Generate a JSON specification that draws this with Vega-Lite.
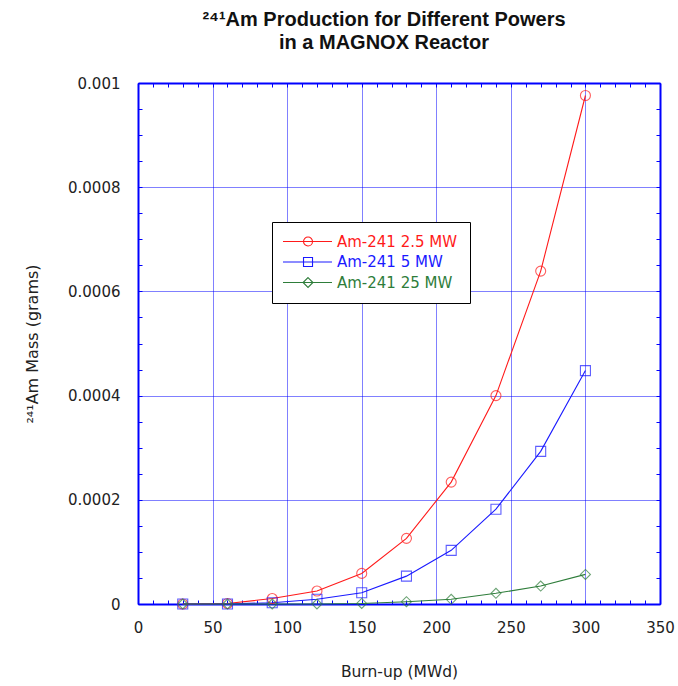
{
  "$schema": "https://vega.github.io/schema/vega-lite/v6.json",
  "width": 522,
  "height": 521,
  "autosize": "none",
  "padding": {"left": 138, "top": 83, "right": 18, "bottom": 82},
  "background": "white",
  "config": {
    "view": {"stroke": null},
    "font": "DejaVu Sans"
  },
  "title": {
    "text": ["²⁴¹Am Production for Different Powers", "in a MAGNOX Reactor"],
    "font": "Liberation Sans",
    "fontSize": 20,
    "fontWeight": "bold",
    "color": "#111",
    "anchor": "middle",
    "lineHeight": 23,
    "offset": 23,
    "dx": -15
  },
  "data": {
    "values": [
      {"burnup": 30, "mass": 0, "series": "Am-241 2.5 MW"},
      {"burnup": 60, "mass": 0.000001, "series": "Am-241 2.5 MW"},
      {"burnup": 90, "mass": 0.0000105, "series": "Am-241 2.5 MW"},
      {"burnup": 120, "mass": 0.0000249, "series": "Am-241 2.5 MW"},
      {"burnup": 150, "mass": 0.0000587, "series": "Am-241 2.5 MW"},
      {"burnup": 180, "mass": 0.000126, "series": "Am-241 2.5 MW"},
      {"burnup": 210, "mass": 0.000234, "series": "Am-241 2.5 MW"},
      {"burnup": 240, "mass": 0.0004, "series": "Am-241 2.5 MW"},
      {"burnup": 270, "mass": 0.000639, "series": "Am-241 2.5 MW"},
      {"burnup": 300, "mass": 0.000976, "series": "Am-241 2.5 MW"},
      {"burnup": 30, "mass": 0, "series": "Am-241 5 MW"},
      {"burnup": 60, "mass": 0, "series": "Am-241 5 MW"},
      {"burnup": 90, "mass": 0.0000025, "series": "Am-241 5 MW"},
      {"burnup": 120, "mass": 0.000009, "series": "Am-241 5 MW"},
      {"burnup": 150, "mass": 0.0000216, "series": "Am-241 5 MW"},
      {"burnup": 180, "mass": 0.0000535, "series": "Am-241 5 MW"},
      {"burnup": 210, "mass": 0.000103, "series": "Am-241 5 MW"},
      {"burnup": 240, "mass": 0.000182, "series": "Am-241 5 MW"},
      {"burnup": 270, "mass": 0.000293, "series": "Am-241 5 MW"},
      {"burnup": 300, "mass": 0.000448, "series": "Am-241 5 MW"},
      {"burnup": 30, "mass": 0, "series": "Am-241 25 MW"},
      {"burnup": 60, "mass": 0, "series": "Am-241 25 MW"},
      {"burnup": 90, "mass": 0, "series": "Am-241 25 MW"},
      {"burnup": 120, "mass": 0, "series": "Am-241 25 MW"},
      {"burnup": 150, "mass": 0.000001, "series": "Am-241 25 MW"},
      {"burnup": 180, "mass": 0.0000044, "series": "Am-241 25 MW"},
      {"burnup": 210, "mass": 0.000009, "series": "Am-241 25 MW"},
      {"burnup": 240, "mass": 0.0000205, "series": "Am-241 25 MW"},
      {"burnup": 270, "mass": 0.0000344, "series": "Am-241 25 MW"},
      {"burnup": 300, "mass": 0.0000568, "series": "Am-241 25 MW"}
    ]
  },
  "resolve": {"axis": {"x": "independent", "y": "independent"}},
  "layer": [
    {
      "mark": {"type": "line", "strokeWidth": 1.1},
      "encoding": {
        "x": {
          "field": "burnup", "type": "quantitative",
          "scale": {"domain": [0, 350], "nice": false, "zero": false},
          "axis": {
            "orient": "bottom",
            "values": [0,10,20,30,40,50,60,70,80,90,100,110,120,130,140,150,160,170,180,190,200,210,220,230,240,250,260,270,280,290,300,310,320,330,340,350],
            "labelExpr": "datum.value % 50 === 0 ? datum.label : ''",
            "labelFlush": false,
            "labelOverlap": false,
            "labelFont": "DejaVu Sans",
            "labelFontSize": 15,
            "labelColor": "#222",
            "labelPadding": 20,
            "tickSize": -4,
            "tickColor": "#0000ff",
            "tickWidth": 1,
            "domainColor": "#0000ff",
            "domainWidth": 2,
            "grid": true,
            "gridColor": "#0000ff",
            "gridDash": [1, 1],
            "gridWidth": 1,
            "gridOpacity": {"condition": {"test": "datum.value % 50 === 0", "value": 1}, "value": 0},
            "title": "Burn-up (MWd)",
            "titleFont": "DejaVu Sans",
            "titleFontSize": 15.5,
            "titleFontWeight": "normal",
            "titleColor": "#222",
            "titlePadding": 29
          }
        },
        "y": {
          "field": "mass", "type": "quantitative",
          "scale": {"domain": [0, 0.001], "nice": false},
          "axis": {
            "orient": "left",
            "values": [0,0.00005,0.0001,0.00015,0.0002,0.00025,0.0003,0.00035,0.0004,0.00045,0.0005,0.00055,0.0006,0.00065,0.0007,0.00075,0.0008,0.00085,0.0009,0.00095,0.001],
            "labelExpr": "abs(datum.value*5000 - round(datum.value*5000)) < 0.01 ? format(datum.value, '~g') : ''",
            "labelFlush": false,
            "labelOverlap": false,
            "labelFont": "DejaVu Sans",
            "labelFontSize": 15,
            "labelColor": "#222",
            "labelPadding": 22,
            "tickSize": -4,
            "tickColor": "#0000ff",
            "domainColor": "#0000ff",
            "domainWidth": 2,
            "grid": true,
            "gridColor": "#0000ff",
            "gridDash": [1, 1],
            "gridOpacity": {"condition": {"test": "abs(datum.value*5000 - round(datum.value*5000)) < 0.01", "value": 1}, "value": 0},
            "title": "²⁴¹Am Mass (grams)",
            "titleFont": "DejaVu Sans",
            "titleFontSize": 16,
            "titleFontWeight": "normal",
            "titleColor": "#222",
            "titlePadding": 27
          }
        },
        "color": {
          "field": "series", "type": "nominal",
          "scale": {"domain": ["Am-241 2.5 MW", "Am-241 5 MW", "Am-241 25 MW"], "range": ["#ff1a1a", "#1a1aff", "#2e7d3a"]},
          "legend": {
            "orient": "none",
            "legendX": 134,
            "legendY": 139,
            "title": null,
            "symbolType": {"expr": "datum.value === 'Am-241 2.5 MW' ? 'M-1.89,0L9,0M2.67,0A1,1,0,1,0,4.67,0A1,1,0,1,0,2.67,0' : datum.value === 'Am-241 5 MW' ? 'M-1.89,0L9,0M2.67,-1L4.67,-1L4.67,1L2.67,1Z' : 'M-1.89,0L9,0M3.67,-1.1L4.77,0L3.67,1.1L2.57,0Z'"},
            "symbolSize": 81,
            "symbolStrokeWidth": 1.1,
            "symbolFillColor": "transparent",
            "labelFontSize": 15,
            "labelFont": "DejaVu Sans",
            "labelLimit": 0,
            "labelOffset": 38,
            "labelColor": {"expr": "datum.value === 'Am-241 2.5 MW' ? '#ff1a1a' : datum.value === 'Am-241 5 MW' ? '#1a1aff' : '#2e7d3a'"},
            "padding": 12,
            "rowPadding": 4.5,
            "strokeColor": "black",
            "fillColor": "white"
          }
        }
      }
    },
    {
      "transform": [{"filter": "datum.series === 'Am-241 2.5 MW'"}],
      "mark": {"type": "point", "shape": "circle", "filled": false, "size": 100, "strokeWidth": 1.1, "stroke": "#ff1a1a"},
      "encoding": {
        "x": {
          "field": "burnup", "type": "quantitative",
          "axis": {
            "orient": "top",
            "values": [0,10,20,30,40,50,60,70,80,90,100,110,120,130,140,150,160,170,180,190,200,210,220,230,240,250,260,270,280,290,300,310,320,330,340,350],
            "labels": false,
            "grid": false,
            "tickSize": -4,
            "tickColor": "#0000ff",
            "domainColor": "#0000ff",
            "domainWidth": 2,
            "title": null
          }
        },
        "y": {
          "field": "mass", "type": "quantitative",
          "axis": {
            "orient": "right",
            "values": [0,0.00005,0.0001,0.00015,0.0002,0.00025,0.0003,0.00035,0.0004,0.00045,0.0005,0.00055,0.0006,0.00065,0.0007,0.00075,0.0008,0.00085,0.0009,0.00095,0.001],
            "labels": false,
            "grid": false,
            "tickSize": -4,
            "tickColor": "#0000ff",
            "domainColor": "#0000ff",
            "domainWidth": 2,
            "title": null
          }
        }
      }
    },
    {
      "transform": [{"filter": "datum.series === 'Am-241 5 MW'"}],
      "mark": {"type": "point", "shape": "square", "filled": false, "size": 100, "strokeWidth": 1.1, "stroke": "#1a1aff"},
      "encoding": {
        "x": {"field": "burnup", "type": "quantitative", "axis": null},
        "y": {"field": "mass", "type": "quantitative", "axis": null}
      }
    },
    {
      "transform": [{"filter": "datum.series === 'Am-241 25 MW'"}],
      "mark": {"type": "point", "shape": "diamond", "filled": false, "size": 100, "strokeWidth": 1.1, "stroke": "#2e7d3a"},
      "encoding": {
        "x": {"field": "burnup", "type": "quantitative", "axis": null},
        "y": {"field": "mass", "type": "quantitative", "axis": null}
      }
    }
  ]
}
